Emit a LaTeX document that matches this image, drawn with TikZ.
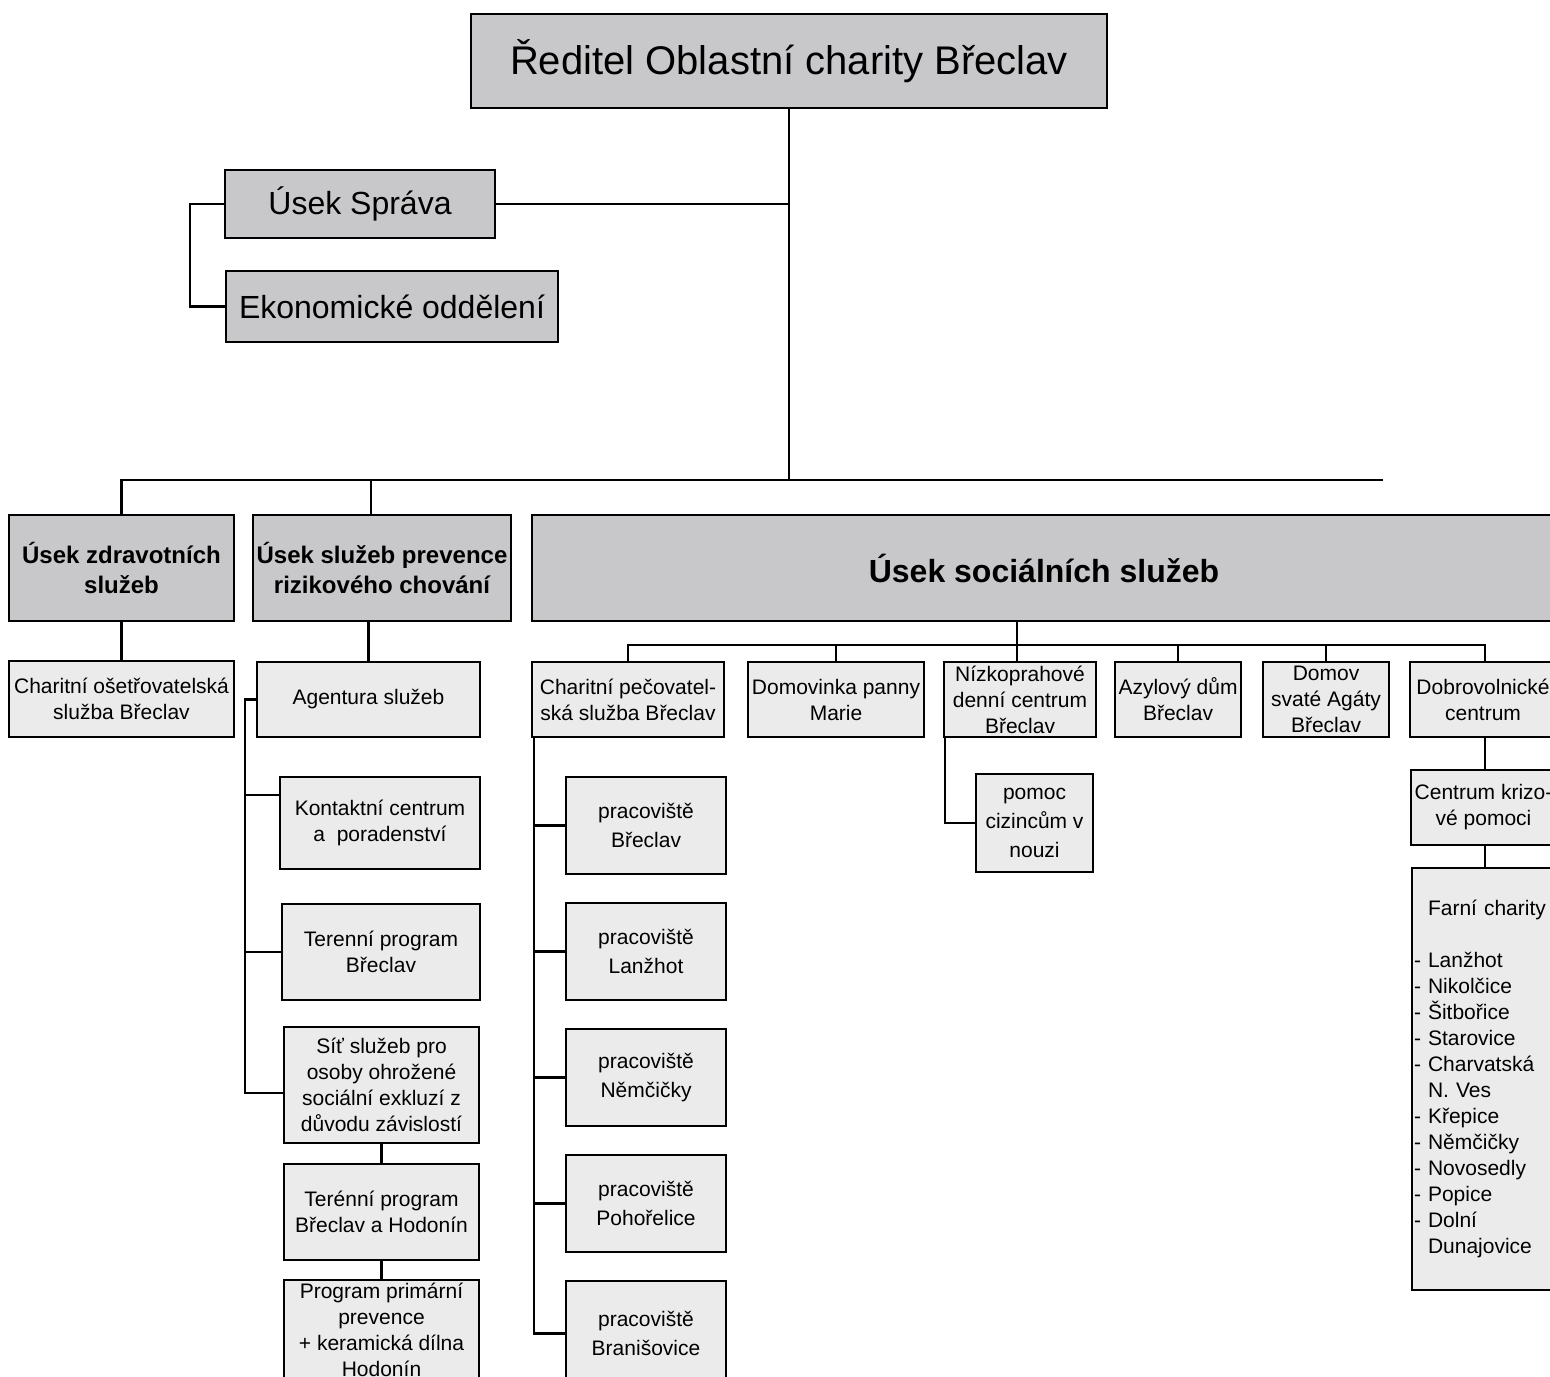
\documentclass[tikz,border=0pt]{standalone}
\usepackage{fontspec}
\setmainfont{Liberation Sans}
\definecolor{dk}{RGB}{200,200,202}
\definecolor{lt}{RGB}{235,235,235}
\tikzset{
  box/.style={draw=black, line width=1.15pt, inner sep=0pt, outer sep=0pt, align=center},
  dkbox/.style={box, fill=dk},
  ltbox/.style={box, fill=lt, font=\fontsize{10.5}{13}\selectfont},
  pbox/.style={box, fill=lt, font=\fontsize{10.5}{14.5}\selectfont},
  conn/.style={draw=black, line width=1.4pt, line join=miter}
}
\newcommand\bx[7]{\node[#6, minimum width={(#4-#2)*0.5pt}, minimum height={(#5-#3)*0.5pt}] (#1) at ({(#2+#4)/2},{(#3+#5)/2}) {#7};}
\begin{document}
\begin{tikzpicture}[x=0.5pt,y=-0.5pt]
\clip (0,0) rectangle (1550,1376);
\fill[white] (0,0) rectangle (1550,1376);
% top level
\bx{top}{471}{14}{1107}{108}{dkbox, font=\fontsize{20}{24}\selectfont}{Ředitel Oblastní charity Břeclav}
\bx{sprava}{225}{170}{495}{238}{dkbox, font=\fontsize{16}{19}\selectfont}{Úsek Správa}
\bx{ekon}{226}{271}{558}{342}{dkbox, font=\fontsize{16}{19}\selectfont}{Ekonomické oddělení}
\bx{zdrav}{9}{515}{234}{621}{dkbox, font=\fontsize{12}{15}\selectfont\bfseries}{Úsek zdravotních\\služeb}
\bx{prev}{253}{515}{511}{621}{dkbox, font=\fontsize{12}{15}\selectfont\bfseries}{Úsek služeb prevence\\rizikového chování}
\bx{soc}{532}{515}{1556}{621}{dkbox, font=\fontsize{16}{19}\selectfont\bfseries}{Úsek sociálních služeb}
% left branches
\bx{oset}{9}{661}{234}{737}{ltbox}{Charitní ošetřovatelská\\služba Břeclav}
\bx{agent}{257}{662}{480}{737}{ltbox}{Agentura služeb}
\bx{kont}{280}{777}{480}{869}{ltbox}{Kontaktní centrum\\a\ \ poradenství}
\bx{teren}{282}{904}{480}{1000}{ltbox}{Terenní program\\Břeclav}
\bx{sit}{284}{1027}{479}{1143}{ltbox}{Síť služeb pro\\osoby ohrožené\\sociální exkluzí z\\důvodu závislostí}
\bx{terBH}{284}{1164}{479}{1260}{ltbox}{Terénní program\\Břeclav a Hodonín}
\bx{prim}{284}{1280}{479}{1380}{ltbox}{Program primární\\prevence\\+ keramická dílna\\Hodonín}
% social services
\bx{pec}{532}{662}{724}{737}{ltbox}{Charitní pečovatel-\\ská služba Břeclav}
\bx{domov}{748}{662}{924}{737}{ltbox}{Domovinka panny\\Marie}
\bx{nizk}{944}{662}{1096}{737}{ltbox}{Nízkoprahové\\denní centrum\\Břeclav}
\bx{azyl}{1115}{662}{1241}{737}{ltbox}{Azylový dům\\Břeclav}
\bx{agata}{1263}{662}{1389}{737}{ltbox}{Domov\\svaté Agáty\\Břeclav}
\bx{dobro}{1410}{662}{1556}{737}{ltbox}{Dobrovolnické\\centrum}
\bx{krize}{1411}{770}{1556}{845}{ltbox}{Centrum krizo-\\vé pomoci}
\bx{p1}{566}{777}{726}{874}{pbox}{pracoviště\\Břeclav}
\bx{p2}{566}{903}{726}{1000}{pbox}{pracoviště\\Lanžhot}
\bx{p3}{566}{1029}{726}{1126}{pbox}{pracoviště\\Němčičky}
\bx{p4}{566}{1155}{726}{1252}{pbox}{pracoviště\\Pohořelice}
\bx{p5}{566}{1281}{726}{1386}{pbox}{pracoviště\\Branišovice}
\bx{pomoc}{976}{774}{1093}{872}{pbox}{pomoc\\cizincům v\\nouzi}
\node[ltbox, align=left, inner xsep=1pt, text width=71pt, minimum height=211pt, anchor=north west] (farni) at (1412,868)
 {\phantom{- }Farní charity\\[13pt]
  - Lanžhot\\- Nikolčice\\- Šitbořice\\- Starovice\\- Charvatská\\\phantom{- }N. Ves\\- Křepice\\- Němčičky\\- Novosedly\\- Popice\\- Dolní\\\phantom{- }Dunajovice};
% coordinates
\coordinate (hR) at (1383,480);
\coordinate (hP) at (371,480);
\coordinate (rA) at (245,1093);
\coordinate (rK) at (245,795);
\coordinate (sc) at (1017,645);
\coordinate (dv) at (1485,645);
% connectors top
\draw[conn] (top.south) -- (top.south |- hR);
\draw[conn] (zdrav.north) |- (hR);
\draw[conn] (prev.north -| hP) -- (hP);
\draw[conn] (sprava.east) -- (sprava.east -| top.south);
\draw[conn] (sprava.west) -- ++(-35,0) |- (ekon.west);
% left
\draw[conn] (zdrav.south) -- (oset.north);
\draw[conn] (agent.north) -- (agent.north |- prev.south);
\draw[conn] (agent.west) -| (rA) -- (rA -| sit.west);
\draw[conn] (rK) -- (rK -| kont.west);
\draw[conn] (rA |- teren.west) -- (teren.west);
\draw[conn] (sit.south) -- (terBH.north);
\draw[conn] (terBH.south) -- (prim.north);
% social
\draw[conn] (soc.south -| sc) -- (sc);
\draw[conn] (pec.north) |- (dv) -- (dobro.north -| dv);
\draw[conn] (domov.north) -- (domov.north |- sc);
\draw[conn] (nizk.north -| sc) -- (sc);
\draw[conn] (azyl.north) -- (azyl.north |- sc);
\draw[conn] (agata.north) -- (agata.north |- sc);
\foreach \p in {p1,p2,p3,p4,p5}{\draw[conn] ([xshift=1pt]pec.south west) |- (\p.west);}
\draw[conn] ([xshift=0.5pt]nizk.south west) |- (pomoc.west);
\draw[conn] (dobro.south -| dv) -- (krize.north -| dv);
\draw[conn] (krize.south -| dv) -- (farni.north -| dv);
\end{tikzpicture}
\end{document}
